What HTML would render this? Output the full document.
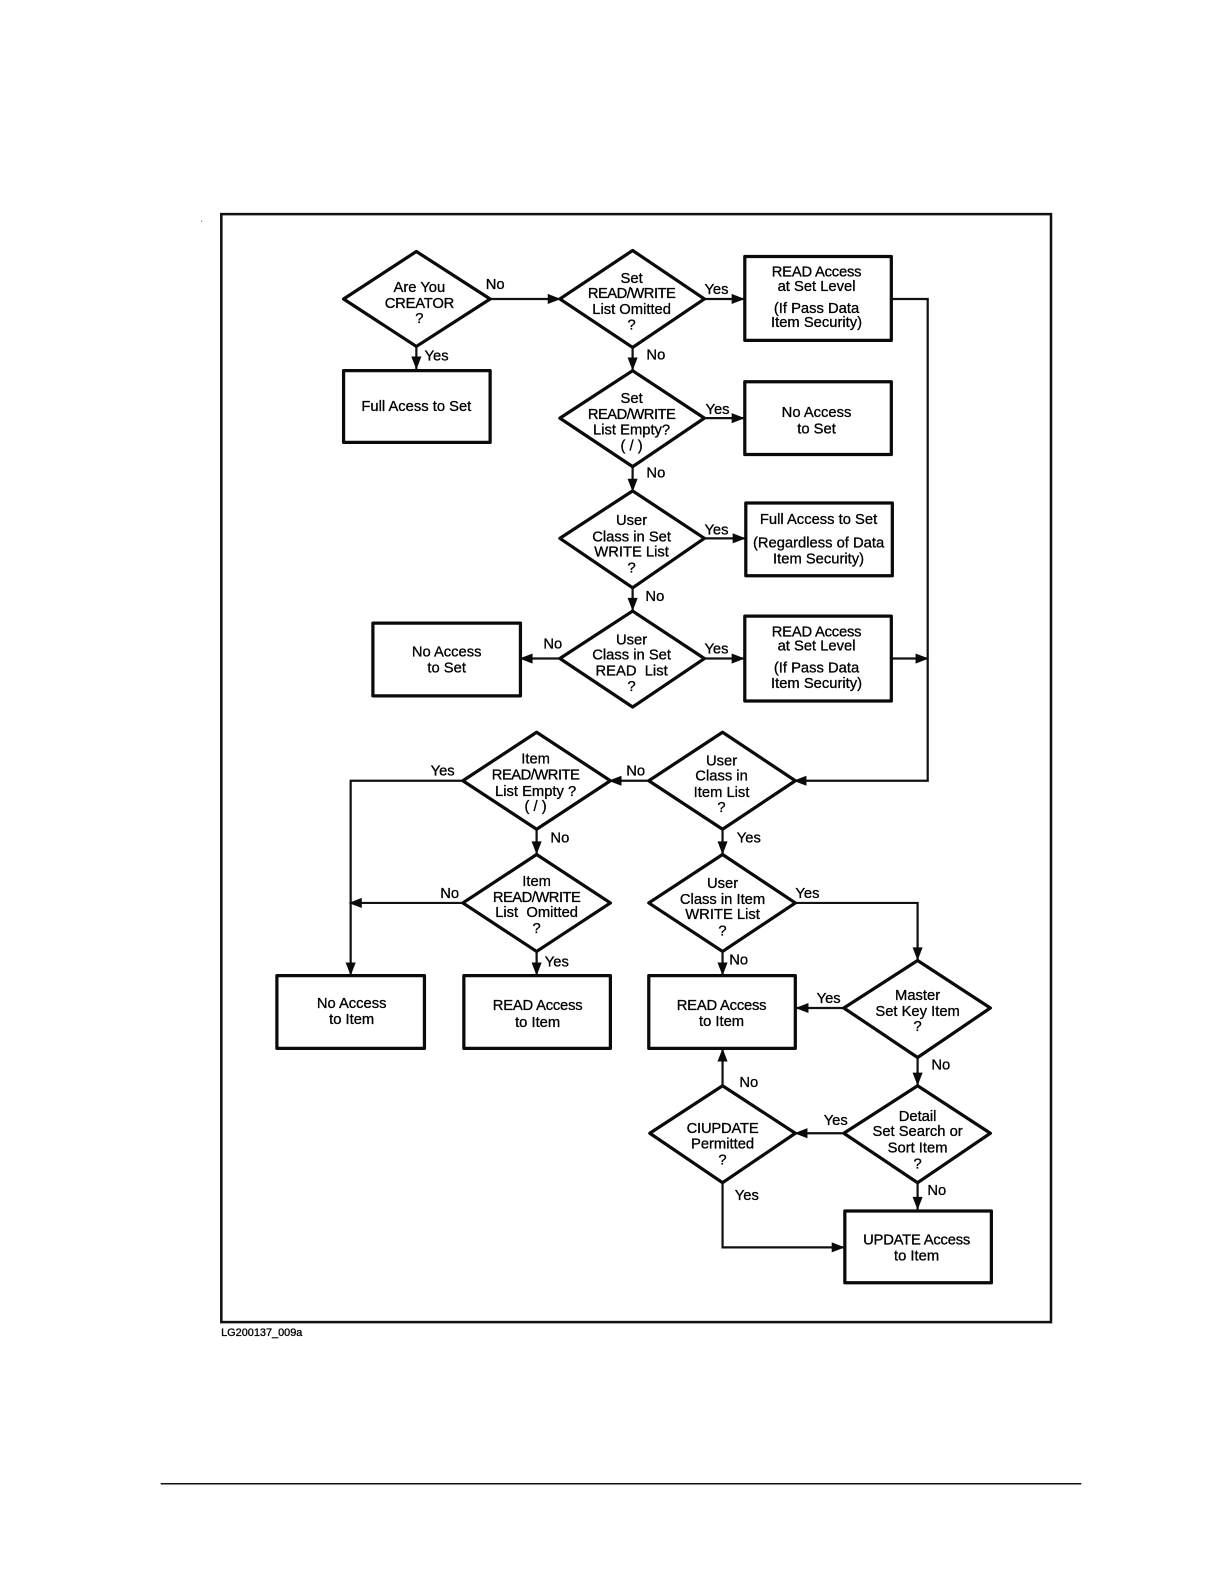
<!DOCTYPE html>
<html><head><meta charset="utf-8"><style>
html,body{margin:0;padding:0;background:#fff}
svg{display:block}
text{font-family:"Liberation Sans",sans-serif;font-size:14.6px;fill:#000;text-anchor:middle;stroke:#000;stroke-width:.3px}
.t{letter-spacing:-.5px}
.u{letter-spacing:-.2px}
.b{fill:#fff;stroke:#0a0a0a;stroke-width:3.2;stroke-linejoin:round}
.l{fill:none;stroke:#111;stroke-width:2.2}
.a{fill:#0a0a0a;stroke:none}
</style></head><body>
<svg width="1224" height="1584" viewBox="0 0 1211.2 1568.3" preserveAspectRatio="none" xmlns="http://www.w3.org/2000/svg">
<rect x="199" y="218.5" width="1" height="1" fill="#555"/>
<rect x="219" y="212" width="821" height="1097" fill="none" stroke="#111" stroke-width="2.5"/>
<line x1="159" y1="1469" x2="1070" y2="1469" stroke="#111" stroke-width="1.5"/>
<text x="259" y="1323" style="font-size:10.8px">LG200137_009a</text>

<!-- connectors -->
<path class="l" d="M485 296H553M697 296H736M626 344V367M412 343V366M697 414H736M626 462V486M697 533H737M626 582V605M554 652H515M697 652H736M882 296H918V773H787M882 652H918M642 773H604M715 821V846M531 821V846M458 773H347V966M458 894H347M531 942V966M715 942V966M787 894H908V951M835 998H788M908 1047V1075M835 1122H787M908 1171V1198M715 1075V1039M715 1171V1235H835"/>
<!-- arrowheads -->
<path class="a" d="M555 296l-13-5v10zM737 296l-13-5v10zM626 367l-5-13h10zM412 366l-5-13h10zM737 414l-13-5v10zM626 487l-5-13h10zM738 533l-13-5v10zM626 605l-5-13h10zM514 652l13-5v10zM737 652l-13-5v10zM919 652l-13-5v10zM785 773l13-5v10zM602 773l13-5v10zM715 846l-5-13h10zM531 846l-5-13h10zM347 966l-5-13h10zM345 894l13-5v10zM531 966l-5-13h10zM715 966l-5-13h10zM908 951l-5-13h10zM787 998l13-5v10zM908 1075l-5-13h10zM786 1122l13-5v10zM908 1198l-5-13h10zM715 1038l-5 13h10zM836 1235l-13-5v10z"/>

<!-- diamonds -->
<path class="b" d="M412 249L485 296L412 343L340 296Z"/>
<path class="b" d="M626 248L697 296L626 344L554 296Z"/>
<path class="b" d="M626 367L697 414L626 462L554 414Z"/>
<path class="b" d="M626 486L697 533L626 582L554 533Z"/>
<path class="b" d="M626 605L697 652L626 700L554 652Z"/>
<path class="b" d="M531 725L604 773L531 821L458 773Z"/>
<path class="b" d="M715 725L787 773L715 821L642 773Z"/>
<path class="b" d="M531 846L604 894L531 942L458 894Z"/>
<path class="b" d="M715 846L787 894L715 942L642 894Z"/>
<path class="b" d="M908 951L980 998L908 1047L835 998Z"/>
<path class="b" d="M908 1075L980 1122L908 1171L835 1122Z"/>
<path class="b" d="M715 1075L787 1122L715 1171L643 1122Z"/>

<!-- boxes -->
<rect class="b" x="340" y="367" width="145" height="71"/>
<rect class="b" x="737" y="254" width="145" height="83"/>
<rect class="b" x="737" y="378" width="145" height="72"/>
<rect class="b" x="738" y="498" width="145" height="72"/>
<rect class="b" x="737" y="610" width="145" height="84"/>
<rect class="b" x="369" y="617" width="146" height="72"/>
<rect class="b" x="274" y="966" width="146" height="72"/>
<rect class="b" x="459" y="966" width="145" height="72"/>
<rect class="b" x="642" y="966" width="145" height="72"/>
<rect class="b" x="836" y="1199" width="145" height="71"/>

<!-- diamond text -->
<text x="415" y="289">Are You</text><text class="u" x="415" y="305">CREATOR</text><text x="415" y="320">?</text>
<text x="625" y="280">Set</text><text class="t" x="625" y="295">READ/WRITE</text><text x="625" y="311">List Omitted</text><text x="625" y="326">?</text>
<text x="625" y="399">Set</text><text class="t" x="625" y="415">READ/WRITE</text><text x="625" y="430">List Empty?</text><text x="625" y="446">( / )</text>
<text x="625" y="520">User</text><text x="625" y="536">Class in Set</text><text x="625" y="551">WRITE List</text><text x="625" y="567">?</text>
<text x="625" y="638">User</text><text x="625" y="653">Class in Set</text><text x="625" y="669">READ&#160; List</text><text x="625" y="684">?</text>
<text x="530" y="756">Item</text><text class="t" x="530" y="772">READ/WRITE</text><text x="530" y="788">List Empty ?</text><text x="530" y="803">( / )</text>
<text x="714" y="758">User</text><text x="714" y="773">Class in</text><text x="714" y="789">Item List</text><text x="714" y="804">?</text>
<text x="531" y="877">Item</text><text class="t" x="531" y="893">READ/WRITE</text><text x="531" y="908">List&#160; Omitted</text><text x="531" y="924">?</text>
<text x="715" y="879">User</text><text x="715" y="895">Class in Item</text><text x="715" y="910">WRITE List</text><text x="715" y="926">?</text>
<text x="908" y="990">Master</text><text x="908" y="1006">Set Key Item</text><text x="908" y="1021">?</text>
<text x="908" y="1110">Detail</text><text x="908" y="1125">Set Search or</text><text x="908" y="1141">Sort Item</text><text x="908" y="1157">?</text>
<text class="u" x="715" y="1122">CIUPDATE</text><text x="715" y="1137">Permitted</text><text x="715" y="1153">?</text>

<!-- box text -->
<text x="412" y="407">Full Acess to Set</text>
<text class="u" x="808" y="274">READ Access</text><text x="808" y="288">at Set Level</text><text x="808" y="310">(If Pass Data</text><text x="808" y="324">Item Security)</text>
<text x="808" y="413">No Access</text><text x="808" y="429">to Set</text>
<text x="810" y="519">Full Access to Set</text><text x="810" y="542">(Regardless of Data</text><text x="810" y="558">Item Security)</text>
<text class="u" x="808" y="630">READ Access</text><text x="808" y="644">at Set Level</text><text x="808" y="666">(If Pass Data</text><text x="808" y="681">Item Security)</text>
<text x="442" y="650">No Access</text><text x="442" y="666">to Set</text>
<text x="348" y="998">No Access</text><text x="348" y="1014">to Item</text>
<text class="u" x="532" y="1000">READ Access</text><text x="532" y="1017">to Item</text>
<text class="u" x="714" y="1000">READ Access</text><text x="714" y="1016">to Item</text>
<text class="u" x="907" y="1232">UPDATE Access</text><text x="907" y="1248">to Item</text>

<!-- connector labels -->
<text x="490" y="286">No</text><text x="432" y="357">Yes</text><text x="709" y="291">Yes</text><text x="649" y="356">No</text>
<text x="710" y="410">Yes</text><text x="649" y="473">No</text><text x="709" y="529">Yes</text><text x="648" y="595">No</text>
<text x="547" y="642">No</text><text x="709" y="647">Yes</text><text x="438" y="768">Yes</text><text x="629" y="768">No</text>
<text x="554" y="834">No</text><text x="741" y="834">Yes</text><text x="445" y="889">No</text><text x="799" y="889">Yes</text>
<text x="551" y="957">Yes</text><text x="731" y="955">No</text><text x="820" y="993">Yes</text><text x="931" y="1059">No</text>
<text x="741" y="1076">No</text><text x="827" y="1114">Yes</text><text x="927" y="1183">No</text><text x="739" y="1188">Yes</text>
</svg>
</body></html>
